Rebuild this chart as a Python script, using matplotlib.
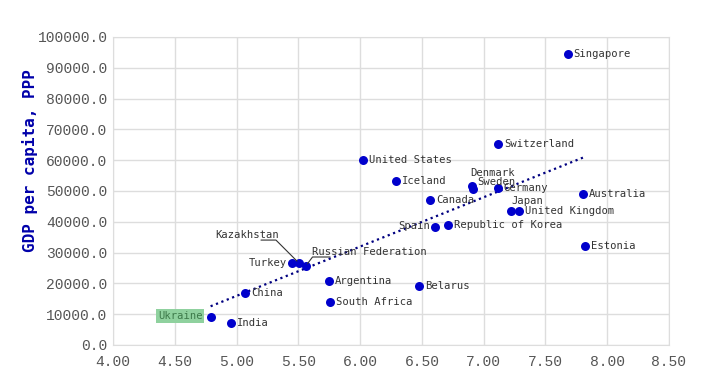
"""Scatter of GDP per capita (PPP) against a happiness-style score, with OLS trend line."""
import numpy as np
import matplotlib
matplotlib.use("Agg")
import matplotlib.pyplot as plt

countries = ["Singapore", "Switzerland", "United States", "Iceland", "Denmark",
             "Sweden", "Germany", "Canada", "Australia", "Japan", "United Kingdom",
             "Spain", "Republic of Korea", "Estonia", "Turkey", "Kazakhstan",
             "Russian Federation", "Argentina", "Belarus", "China", "South Africa",
             "Ukraine", "India"]
score = [7.68, 7.115, 6.02, 6.29, 6.905, 6.91, 7.115, 6.565, 7.80, 7.22, 7.29,
         6.61, 6.71, 7.82, 5.45, 5.505, 5.56, 5.75, 6.475, 5.07, 5.755, 4.79, 4.955]
gdp = [94500, 65300, 60000, 53200, 51700, 50700, 51000, 47100, 49000, 43500, 43500,
       38300, 39000, 32100, 26600, 26600, 25650, 20800, 19150, 16900, 14000, 9100, 7150]

# label offsets in pixels (dx, dy) and horizontal alignment
offsets = {
    "Denmark": (-2, 13, "left"),
    "Sweden": (5, 7, "left"),
    "Japan": (1, 10, "left"),
    "Spain": (-5, 1, "right"),
    "Turkey": (-5, 0, "right"),
    "Ukraine": (-8, 1, "right"),
}

fig = plt.figure(figsize=(7.09, 3.86), dpi=100)
ax = fig.add_axes([113 / 709, 1 - 345 / 386, (669 - 113) / 709, (345 - 37) / 386])

ax.scatter(score, gdp, s=42, color="#0000cc", zorder=3, linewidths=0)

# trend line over the data range
k, b = np.polyfit(score, gdp, 1)
xs = np.array([min(score), max(score)])
ax.plot(xs, k * xs + b, color="#000080", linestyle=(0, (1, 1.6)), linewidth=1.6, zorder=2)

lab_font = dict(family="DejaVu Sans Mono", fontsize=7.6, color="#333333")
leader_box = dict(boxstyle="square,pad=0.2", fc="none", ec="none")
for name, x, y in zip(countries, score, gdp):
    if name == "Kazakhstan":
        ax.annotate(name, (x, y), xytext=(-52, 28), textcoords="offset pixels",
                    ha="center", va="center", bbox=leader_box, **lab_font,
                    arrowprops=dict(arrowstyle="-", color="#333333", lw=0.8,
                                    connectionstyle="angle,angleA=0,angleB=135,rad=0",
                                    shrinkA=0, shrinkB=2, patchA=None,
                                    relpos=(0.72, 0.0)))
        continue
    if name == "Russian Federation":
        ax.annotate(name, (x, y), xytext=(6, 14), textcoords="offset pixels",
                    ha="left", va="center", bbox=leader_box, **lab_font,
                    arrowprops=dict(arrowstyle="-", color="#333333", lw=0.8,
                                    connectionstyle="angle,angleA=0,angleB=53,rad=0",
                                    shrinkA=0, shrinkB=2, patchA=None,
                                    relpos=(0.16, 0.0)))
        continue
    dx, dy, ha = offsets.get(name, (6, 0, "left"))
    if name == "Ukraine":
        ax.annotate(name, (x, y), xytext=(dx, dy), textcoords="offset pixels",
                    ha=ha, va="center", family="DejaVu Sans Mono", fontsize=7.6,
                    color="#3d7a4a",
                    bbox=dict(boxstyle="square,pad=0.15", fc="#8fd19e", ec="none"))
        continue
    ax.annotate(name, (x, y), xytext=(dx, dy), textcoords="offset pixels",
                ha=ha, va="center", **lab_font)

ax.set_xlim(4.0, 8.5)
ax.set_ylim(0, 100000)
ax.set_xticks(np.arange(4.0, 8.51, 0.5))
ax.set_yticks(np.arange(0, 100001, 10000))
ax.xaxis.set_major_formatter(matplotlib.ticker.FormatStrFormatter("%.2f"))
ax.yaxis.set_major_formatter(matplotlib.ticker.FormatStrFormatter("%.1f"))
ax.grid(True, color="#dddddd", linewidth=1)
ax.set_axisbelow(True)
for sp in ax.spines.values():
    sp.set_color("#dddddd")
ax.tick_params(length=0, pad=4, labelcolor="#555555", labelsize=10.5)
ax.tick_params(axis="x", pad=7)
for t in ax.get_xticklabels() + ax.get_yticklabels():
    t.set_family("Liberation Mono")

fig.text(30 / 709, 1 - 161 / 386, "GDP per capita, PPP", rotation=90, ha="center",
         va="center", family="DejaVu Sans Mono", fontsize=11.5, fontweight="bold",
         color="#0000aa")

fig.savefig("out.png", dpi=100)
